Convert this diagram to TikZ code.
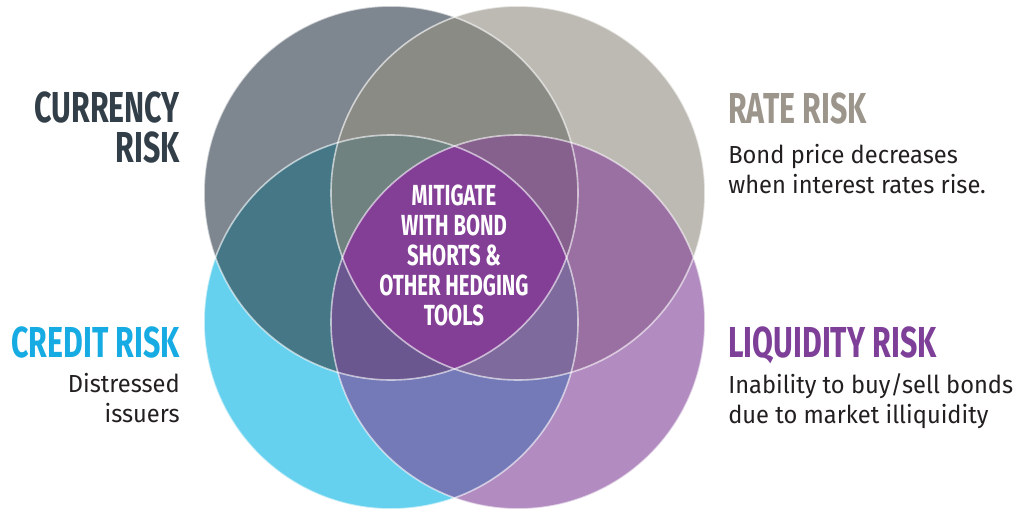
\documentclass[tikz,border=0pt]{standalone}
\usepackage{fontspec}
\setmainfont{Fira Sans}[FakeStretch=0.96]
\newfontfamily\headfont{Fira Sans}[FakeStretch=0.7]
\definecolor{cTL}{HTML}{7E868F}
\definecolor{cTR}{HTML}{BDBAB3}
\definecolor{cBL}{HTML}{66D1EE}
\definecolor{cBR}{HTML}{B28CC0}
\definecolor{cTLTR}{HTML}{8B8B86}
\definecolor{cTLBL}{HTML}{457787}
\definecolor{cTRBR}{HTML}{9A70A2}
\definecolor{cBLBR}{HTML}{7479B7}
\definecolor{cTLBR}{HTML}{6E6A8A}
\definecolor{cTRBL}{HTML}{7A7E96}
\definecolor{cNoBR}{HTML}{6F8280}
\definecolor{cNoBL}{HTML}{87618E}
\definecolor{cNoTR}{HTML}{6A5790}
\definecolor{cNoTL}{HTML}{7E6A9D}
\definecolor{cAll}{HTML}{833F96}
\definecolor{currency}{HTML}{323E48}
\definecolor{credit}{HTML}{16ABE2}
\definecolor{rate}{HTML}{9B958B}
\definecolor{liquidity}{HTML}{7D3F98}
\definecolor{bodytext}{HTML}{231F20}
\begin{document}
\begin{tikzpicture}[x=0.75pt,y=0.75pt,
  ring/.style={draw=white,draw opacity=0.6,line width=1.2pt},
  head/.style={font=\headfont\bfseries\fontsize{32.5}{29.3}\selectfont,inner sep=0pt},
  body/.style={font=\fontsize{18.5}{22.5}\selectfont,text=bodytext,inner sep=0pt}]
\useasboundingbox (0,0) rectangle (1015,512);
\coordinate (tl) at (391,319);
\coordinate (tr) at (518,319);
\coordinate (bl) at (391,190);
\coordinate (br) at (518,190);
% single circles
\fill[cTL] (tl) circle (187);
\fill[cTR] (tr) circle (187);
\fill[cBL] (bl) circle (187);
\fill[cBR] (br) circle (187);
% pairs
\begin{scope} \clip (tl) circle (187); \fill[cTLTR] (tr) circle (187); \end{scope}
\begin{scope} \clip (tl) circle (187); \fill[cTLBL] (bl) circle (187); \end{scope}
\begin{scope} \clip (tr) circle (187); \fill[cTRBR] (br) circle (187); \end{scope}
\begin{scope} \clip (bl) circle (187); \fill[cBLBR] (br) circle (187); \end{scope}
\begin{scope} \clip (tl) circle (187); \fill[cTLBR] (br) circle (187); \end{scope}
\begin{scope} \clip (tr) circle (187); \fill[cTRBL] (bl) circle (187); \end{scope}
% triples
\begin{scope} \clip (tl) circle (187); \clip (tr) circle (187); \fill[cNoBR] (bl) circle (187); \end{scope}
\begin{scope} \clip (tl) circle (187); \clip (tr) circle (187); \fill[cNoBL] (br) circle (187); \end{scope}
\begin{scope} \clip (tl) circle (187); \clip (bl) circle (187); \fill[cNoTR] (br) circle (187); \end{scope}
\begin{scope} \clip (tr) circle (187); \clip (bl) circle (187); \fill[cNoTL] (br) circle (187); \end{scope}
\begin{scope} \clip (tl) circle (187); \clip (tr) circle (187); \clip (bl) circle (187); \fill[cAll] (br) circle (187); \end{scope}
\foreach \c in {tl,tr,bl,br}
  \draw[ring] (\c) circle (187);

\begin{scope}[every node/.style={head}]
\node[text=currency,align=right,anchor=base east] (currency) at (180,350) {CURRENCY\\RISK};
\node[text=credit,anchor=base east] (credit) at (180,155) {CREDIT RISK};
\node[text=rate,anchor=base west] (rate) at (728,389) {RATE RISK};
\node[text=liquidity,anchor=base west] (liquidity) at (728,155) {LIQUIDITY RISK};
\node[text=white,align=center,font=\headfont\bfseries\fontsize{21.8}{22.5}\selectfont] (mitigate) at (454,257) {MITIGATE\\WITH BOND\\SHORTS \&\\OTHER HEDGING\\TOOLS};
\end{scope}
\begin{scope}[every node/.style={body}]
\node[align=right,anchor=base east] (creditbody) at (180,90) {Distressed\\issuers};
\node[align=left,anchor=base west] (ratebody) at (728,319) {Bond price decreases\\when interest rates rise.};
\node[align=left,anchor=base west] (liquiditybody) at (728,89) {Inability to buy/sell bonds\\due to market illiquidity};
\end{scope}
\end{tikzpicture}
\end{document}
